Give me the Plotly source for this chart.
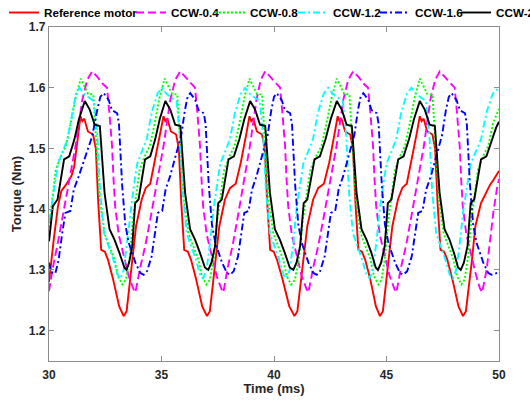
import plotly.graph_objects as go

series_names = ["Reference motor", "CCW-0.4", "CCW-0.8", "CCW-1.2", "CCW-1.6", "CCW-2"]
x_ticks = [30, 35, 40, 45, 50]
y_ticks = [1.2, 1.3, 1.4, 1.5, 1.6, 1.7]
y_tick_text = ["1.2", "1.3", "1.4", "1.5", "1.6", "1.7"]

# ---------------- Reference motor (red) ----------------
red_t = ([30.00, 30.10, 30.21, 30.40, 30.55, 30.75, 31.00, 31.12, 31.25, 31.40]
         + [31.48, 31.57, 31.73, 31.96, 32.08, 32.19, 32.32, 32.48, 32.62, 32.84, 33.12, 33.32]
         + [33.45, 33.72, 33.87, 34.12, 34.30, 34.50, 34.70, 34.94, 35.09]
         + [35.17, 35.26, 35.42, 35.65, 35.77, 35.88, 36.01, 36.17, 36.31, 36.53, 36.81, 37.02]
         + [37.15, 37.42, 37.57, 37.82, 38.05, 38.30, 38.52, 38.76, 38.91]
         + [38.99, 39.08, 39.24, 39.47, 39.59, 39.70, 39.83, 39.99, 40.13, 40.37, 40.68, 40.91]
         + [41.04, 41.32, 41.48, 41.74, 41.97, 42.22, 42.45, 42.68, 42.83]
         + [42.91, 43.00, 43.16, 43.39, 43.51, 43.62, 43.75, 43.91, 44.05, 44.27, 44.53, 44.71]
         + [44.84, 45.11, 45.26, 45.51, 45.70, 45.90, 46.10, 46.33, 46.48]
         + [46.56, 46.65, 46.81, 47.04, 47.16, 47.27, 47.40, 47.56, 47.70, 47.92, 48.20, 48.40]
         + [48.53, 48.80, 48.95, 49.20, 49.45, 49.60, 49.75, 50.00])
red_v = ([1.280, 1.317, 1.350, 1.405, 1.430, 1.440, 1.455, 1.470, 1.505, 1.553]
         + [1.545, 1.549, 1.528, 1.523, 1.500, 1.410, 1.333, 1.330, 1.317, 1.286, 1.240, 1.224]
         + [1.232, 1.317, 1.372, 1.416, 1.435, 1.442, 1.478, 1.522, 1.553]
         + [1.545, 1.549, 1.528, 1.523, 1.500, 1.410, 1.333, 1.330, 1.317, 1.286, 1.240, 1.224]
         + [1.232, 1.317, 1.372, 1.416, 1.435, 1.442, 1.476, 1.522, 1.553]
         + [1.545, 1.549, 1.528, 1.523, 1.500, 1.410, 1.333, 1.330, 1.317, 1.286, 1.240, 1.224]
         + [1.232, 1.317, 1.372, 1.416, 1.435, 1.442, 1.476, 1.522, 1.553]
         + [1.545, 1.549, 1.528, 1.523, 1.500, 1.410, 1.333, 1.330, 1.317, 1.286, 1.240, 1.224]
         + [1.232, 1.317, 1.372, 1.416, 1.435, 1.442, 1.478, 1.522, 1.553]
         + [1.545, 1.549, 1.528, 1.523, 1.500, 1.410, 1.333, 1.330, 1.317, 1.286, 1.240, 1.224]
         + [1.232, 1.317, 1.372, 1.410, 1.428, 1.440, 1.448, 1.463])

# ---------------- CCW-0.4 (magenta dashed) ----------------
mag_t = ([30.00, 30.15, 30.37, 30.59, 30.81, 31.03, 31.18, 31.48, 31.70, 31.92]
         + [32.17, 32.40, 32.58, 32.68, 32.80, 32.87, 32.94, 33.10, 33.32, 33.54, 33.76, 33.84]
         + [34.06, 34.28, 34.50, 34.72, 34.94, 35.09, 35.39, 35.61, 35.83]
         + [36.08, 36.31, 36.49, 36.59, 36.71, 36.78, 36.85, 37.01, 37.23, 37.45, 37.67, 37.75]
         + [37.95, 38.16, 38.37, 38.58, 38.79, 38.93, 39.22, 39.41, 39.61]
         + [39.86, 40.09, 40.27, 40.37, 40.49, 40.56, 40.63, 40.79, 41.01, 41.23, 41.45, 41.53]
         + [41.75, 41.97, 42.19, 42.41, 42.63, 42.78, 43.08, 43.30, 43.52]
         + [43.77, 44.00, 44.18, 44.28, 44.40, 44.47, 44.54, 44.70, 44.92, 45.14, 45.36, 45.44]
         + [45.65, 45.87, 46.08, 46.30, 46.51, 46.66, 46.95, 47.16, 47.37]
         + [47.62, 47.85, 48.03, 48.13, 48.25, 48.32, 48.39, 48.55, 48.77, 48.99, 49.15, 49.25]
         + [49.45, 49.60, 49.75, 49.90, 50.00])
mag_v = ([1.265, 1.300, 1.340, 1.383, 1.427, 1.470, 1.504, 1.580, 1.613, 1.627]
         + [1.617, 1.606, 1.600, 1.560, 1.505, 1.449, 1.405, 1.358, 1.322, 1.290, 1.268, 1.263]
         + [1.305, 1.340, 1.383, 1.427, 1.470, 1.504, 1.580, 1.613, 1.627]
         + [1.617, 1.606, 1.600, 1.560, 1.505, 1.449, 1.405, 1.358, 1.322, 1.290, 1.268, 1.263]
         + [1.305, 1.340, 1.383, 1.427, 1.470, 1.504, 1.580, 1.613, 1.627]
         + [1.617, 1.606, 1.600, 1.560, 1.505, 1.449, 1.405, 1.358, 1.322, 1.290, 1.268, 1.263]
         + [1.305, 1.340, 1.383, 1.427, 1.470, 1.504, 1.580, 1.613, 1.627]
         + [1.617, 1.606, 1.600, 1.560, 1.505, 1.449, 1.405, 1.358, 1.322, 1.290, 1.268, 1.263]
         + [1.305, 1.340, 1.383, 1.427, 1.470, 1.504, 1.580, 1.613, 1.627]
         + [1.617, 1.606, 1.600, 1.560, 1.505, 1.449, 1.405, 1.358, 1.322, 1.290, 1.270, 1.263]
         + [1.300, 1.350, 1.395, 1.432, 1.450])

# ---------------- CCW-0.8 (green dotted) ----------------
grn_t = ([30.00, 30.16, 30.30, 30.52, 30.75, 30.97, 31.19, 31.41]
         + [31.59, 31.74, 31.97, 32.11, 32.26, 32.47, 32.69, 32.91, 33.06, 33.26]
         + [33.42, 33.59, 33.73, 33.89, 34.03, 34.25, 34.48, 34.70, 34.92, 35.14]
         + [35.32, 35.47, 35.70, 35.84, 35.99, 36.20, 36.42, 36.64, 36.79, 36.99]
         + [37.15, 37.33, 37.48, 37.65, 37.79, 38.02, 38.25, 38.47, 38.69, 38.91]
         + [39.09, 39.24, 39.47, 39.61, 39.76, 39.97, 40.19, 40.41, 40.56, 40.76]
         + [40.93, 41.12, 41.28, 41.46, 41.62, 41.87, 42.11, 42.34, 42.57, 42.79]
         + [42.97, 43.12, 43.35, 43.49, 43.64, 43.85, 44.07, 44.29, 44.44, 44.64]
         + [44.78, 44.94, 45.08, 45.24, 45.38, 45.60, 45.82, 46.04, 46.26, 46.48]
         + [46.66, 46.81, 47.04, 47.18, 47.33, 47.54, 47.76, 47.98, 48.13, 48.33]
         + [48.47, 48.63, 48.77, 48.93, 49.07, 49.29, 49.52, 49.74, 50.00])
grn_v = ([1.370, 1.427, 1.465, 1.487, 1.504, 1.542, 1.585, 1.615]
         + [1.600, 1.590, 1.589, 1.510, 1.416, 1.360, 1.339, 1.317, 1.290, 1.276]
         + [1.284, 1.322, 1.383, 1.427, 1.465, 1.487, 1.504, 1.542, 1.585, 1.615]
         + [1.600, 1.590, 1.589, 1.510, 1.416, 1.360, 1.339, 1.317, 1.290, 1.276]
         + [1.284, 1.322, 1.383, 1.427, 1.465, 1.487, 1.504, 1.542, 1.585, 1.615]
         + [1.600, 1.590, 1.589, 1.510, 1.416, 1.360, 1.339, 1.317, 1.290, 1.276]
         + [1.284, 1.322, 1.383, 1.427, 1.465, 1.487, 1.504, 1.542, 1.585, 1.615]
         + [1.600, 1.590, 1.589, 1.510, 1.416, 1.360, 1.339, 1.317, 1.290, 1.276]
         + [1.284, 1.322, 1.383, 1.427, 1.465, 1.487, 1.504, 1.542, 1.585, 1.615]
         + [1.600, 1.590, 1.589, 1.510, 1.416, 1.360, 1.339, 1.317, 1.290, 1.276]
         + [1.284, 1.322, 1.383, 1.427, 1.465, 1.487, 1.504, 1.542, 1.565])

# ---------------- CCW-1.2 (cyan dash-dot) ----------------
cyn_t = ([30.00, 30.10, 30.25, 30.40, 30.60, 30.82, 31.05, 31.20, 31.35]
         + [31.55, 31.77, 32.00, 32.15, 32.27, 32.45, 32.65, 32.85, 33.05, 33.18]
         + [33.32, 33.47, 33.62, 33.77, 33.92, 34.12, 34.34, 34.57, 34.82, 35.02]
         + [35.22, 35.44, 35.67, 35.82, 35.94, 36.12, 36.32, 36.52, 36.72, 36.85]
         + [37.00, 37.16, 37.31, 37.46, 37.61, 37.82, 38.04, 38.27, 38.52, 38.72]
         + [38.92, 39.14, 39.37, 39.52, 39.64, 39.82, 40.02, 40.22, 40.42, 40.55]
         + [40.70, 40.86, 41.00, 41.15, 41.30, 41.51, 41.73, 41.96, 42.21, 42.41]
         + [42.61, 42.83, 43.06, 43.21, 43.33, 43.51, 43.71, 43.91, 44.11, 44.24]
         + [44.39, 44.55, 44.70, 44.85, 45.00, 45.21, 45.43, 45.66, 45.91, 46.11]
         + [46.31, 46.53, 46.76, 46.91, 47.03, 47.21, 47.41, 47.61, 47.81, 47.95]
         + [48.10, 48.26, 48.42, 48.58, 48.74, 48.96, 49.20, 49.45, 49.72, 50.00])
cyn_v = ([1.380, 1.400, 1.438, 1.475, 1.494, 1.515, 1.560, 1.590, 1.600]
         + [1.590, 1.584, 1.578, 1.520, 1.430, 1.360, 1.340, 1.318, 1.292, 1.286]
         + [1.300, 1.345, 1.400, 1.438, 1.475, 1.494, 1.515, 1.560, 1.590, 1.600]
         + [1.590, 1.584, 1.578, 1.520, 1.430, 1.360, 1.340, 1.318, 1.292, 1.286]
         + [1.300, 1.345, 1.400, 1.438, 1.475, 1.494, 1.515, 1.560, 1.590, 1.600]
         + [1.590, 1.584, 1.578, 1.520, 1.430, 1.360, 1.340, 1.318, 1.292, 1.286]
         + [1.300, 1.345, 1.400, 1.438, 1.475, 1.494, 1.515, 1.560, 1.590, 1.600]
         + [1.590, 1.584, 1.578, 1.520, 1.430, 1.360, 1.340, 1.318, 1.292, 1.286]
         + [1.300, 1.345, 1.400, 1.438, 1.475, 1.494, 1.515, 1.560, 1.590, 1.600]
         + [1.590, 1.584, 1.578, 1.520, 1.430, 1.360, 1.340, 1.318, 1.292, 1.286]
         + [1.300, 1.345, 1.400, 1.438, 1.475, 1.494, 1.515, 1.560, 1.590, 1.600])

# ---------------- CCW-1.6 (blue dash-dot) ----------------
blu_t = ([30.00, 30.10, 30.28, 30.43, 30.59, 30.73, 30.95, 31.10, 31.32, 31.62, 31.92, 32.14, 32.28, 32.43]
         + [32.65, 32.80, 33.03, 33.11, 33.25, 33.39, 33.54, 33.84, 34.06, 34.21]
         + [34.36, 34.56, 34.70, 34.84, 35.03, 35.18, 35.38, 35.63, 35.88, 36.04, 36.16, 36.28]
         + [36.50, 36.65, 36.88, 36.96, 37.10, 37.24, 37.39, 37.69, 37.91, 38.06]
         + [38.21, 38.40, 38.54, 38.68, 38.87, 39.02, 39.22, 39.47, 39.72, 39.88, 40.00, 40.12]
         + [40.34, 40.49, 40.72, 40.80, 40.94, 41.08, 41.23, 41.53, 41.75, 41.90]
         + [42.05, 42.25, 42.39, 42.53, 42.72, 42.87, 43.07, 43.32, 43.57, 43.73, 43.85, 43.97]
         + [44.19, 44.34, 44.57, 44.65, 44.79, 44.93, 45.08, 45.38, 45.60, 45.75]
         + [45.92, 46.12, 46.27, 46.41, 46.60, 46.76, 46.97, 47.22, 47.47, 47.64, 47.77, 47.89]
         + [48.11, 48.26, 48.49, 48.57, 48.71, 48.85, 49.00, 49.30, 49.52, 49.67, 50.00])
blu_v = ([1.312, 1.296, 1.294, 1.317, 1.361, 1.394, 1.397, 1.432, 1.454, 1.487, 1.520, 1.563, 1.585, 1.591]
         + [1.580, 1.563, 1.558, 1.540, 1.440, 1.375, 1.345, 1.312, 1.295, 1.292]
         + [1.298, 1.322, 1.361, 1.394, 1.397, 1.432, 1.454, 1.487, 1.522, 1.563, 1.585, 1.591]
         + [1.580, 1.563, 1.558, 1.540, 1.440, 1.375, 1.345, 1.312, 1.295, 1.292]
         + [1.298, 1.322, 1.361, 1.394, 1.397, 1.432, 1.454, 1.487, 1.522, 1.563, 1.585, 1.591]
         + [1.580, 1.563, 1.558, 1.540, 1.440, 1.375, 1.345, 1.312, 1.295, 1.292]
         + [1.298, 1.322, 1.361, 1.394, 1.397, 1.432, 1.454, 1.487, 1.522, 1.563, 1.585, 1.591]
         + [1.580, 1.563, 1.558, 1.540, 1.440, 1.375, 1.345, 1.312, 1.295, 1.292]
         + [1.298, 1.322, 1.361, 1.394, 1.397, 1.432, 1.454, 1.487, 1.522, 1.563, 1.585, 1.591]
         + [1.580, 1.563, 1.558, 1.540, 1.440, 1.375, 1.345, 1.312, 1.295, 1.292, 1.296])

# ---------------- CCW-2 (black solid) ----------------
blk_t = ([30.00, 30.17, 30.38, 30.53, 30.67, 30.90, 31.13, 31.33, 31.59]
         + [31.81, 32.03, 32.26, 32.47, 32.69, 32.91, 33.13, 33.35, 33.44]
         + [33.56, 33.70, 33.83, 33.98, 34.13, 34.27, 34.50, 34.72, 34.92, 35.17]
         + [35.39, 35.61, 35.84, 36.05, 36.27, 36.49, 36.71, 36.93, 37.08]
         + [37.22, 37.38, 37.52, 37.68, 37.84, 37.98, 38.22, 38.46, 38.68, 38.94]
         + [39.16, 39.38, 39.61, 39.82, 40.04, 40.26, 40.48, 40.70, 40.86]
         + [41.00, 41.16, 41.32, 41.48, 41.65, 41.80, 42.04, 42.29, 42.52, 42.79]
         + [43.01, 43.23, 43.46, 43.67, 43.89, 44.11, 44.33, 44.52, 44.62]
         + [44.76, 44.92, 45.06, 45.22, 45.38, 45.52, 45.76, 46.00, 46.22, 46.48]
         + [46.70, 46.92, 47.15, 47.36, 47.58, 47.80, 48.00, 48.18, 48.30]
         + [48.44, 48.60, 48.74, 48.90, 49.06, 49.20, 49.44, 49.68, 49.88, 50.00])
blk_v = ([1.347, 1.405, 1.416, 1.454, 1.482, 1.487, 1.515, 1.548, 1.578]
         + [1.564, 1.539, 1.537, 1.427, 1.367, 1.350, 1.328, 1.304, 1.300]
         + [1.312, 1.339, 1.410, 1.416, 1.454, 1.482, 1.487, 1.515, 1.548, 1.578]
         + [1.564, 1.539, 1.537, 1.427, 1.367, 1.350, 1.328, 1.304, 1.300]
         + [1.312, 1.339, 1.410, 1.416, 1.454, 1.482, 1.487, 1.515, 1.548, 1.578]
         + [1.564, 1.539, 1.537, 1.427, 1.367, 1.350, 1.328, 1.304, 1.300]
         + [1.312, 1.339, 1.410, 1.416, 1.454, 1.482, 1.487, 1.515, 1.548, 1.578]
         + [1.564, 1.539, 1.537, 1.427, 1.367, 1.350, 1.328, 1.304, 1.300]
         + [1.312, 1.339, 1.410, 1.416, 1.454, 1.482, 1.487, 1.515, 1.548, 1.578]
         + [1.564, 1.539, 1.537, 1.427, 1.367, 1.350, 1.328, 1.304, 1.300]
         + [1.312, 1.339, 1.410, 1.416, 1.454, 1.482, 1.487, 1.515, 1.535, 1.544])

series_t = [red_t, mag_t, grn_t, cyn_t, blu_t, blk_t]
series_v = [red_v, mag_v, grn_v, cyn_v, blu_v, blk_v]
colors = ["#ff0000", "#ff00ff", "#00ff00", "#00ffff", "#0000ff", "#000000"]
dashes = ["solid", "8px,4px", "2px,2px", "7px,3px,2px,3px", "7px,3px,2px,3px", "solid"]
legend_ids = ["legend", "legend2", "legend3", "legend4", "legend5", "legend6"]
legend_left_px = [4, 131, 210, 293, 375, 456]

W, H = 530, 401
FONT = "Liberation Sans, Arial, sans-serif"
AX = "#8c8c8c"

fig = go.Figure()
for name, t, v, c, d, lg in zip(series_names, series_t, series_v, colors, dashes, legend_ids):
    fig.add_trace(go.Scatter(x=t, y=v, mode="lines", name=name, legend=lg,
                             line=dict(color=c, width=1.9, dash=d)))

layout_legends = {}
for lg, lx in zip(legend_ids, legend_left_px):
    layout_legends[lg] = dict(
        x=lx / W, y=1 - 12.5 / H, xref="container", yref="container",
        xanchor="left", yanchor="middle", orientation="h",
        bgcolor="rgba(0,0,0,0)", borderwidth=0,
        font=dict(family=FONT, size=11.7, color="#000000", weight="bold"),
    )

tickfont = dict(family=FONT, size=12, color="#262626", weight="bold")
titlefont = dict(family=FONT, size=13, color="#262626", weight="bold")

fig.update_layout(
    width=W, height=H,
    margin=dict(l=49, r=31, t=27, b=40, autoexpand=False),
    paper_bgcolor="white", plot_bgcolor="white",
    showlegend=True,
    xaxis=dict(range=[30, 50], tickvals=x_ticks, ticks="inside", ticklen=5,
               tickcolor=AX, tickwidth=1, showline=True, linecolor=AX, linewidth=1.2,
               mirror="ticks", showgrid=False, zeroline=False, tickfont=tickfont,
               ticklabelstandoff=2,
               title=dict(text="Time (ms)", font=titlefont, standoff=2)),
    yaxis=dict(range=[1.15, 1.7], tickvals=y_ticks, ticktext=y_tick_text, ticks="inside",
               ticklen=5, tickcolor=AX, tickwidth=1, showline=True, linecolor=AX,
               linewidth=1.2, mirror="ticks", showgrid=False, zeroline=False,
               tickfont=tickfont, title=dict(text="Torque (Nm)", font=titlefont, standoff=4)),
    **layout_legends,
)

fig.write_html("out.html")
